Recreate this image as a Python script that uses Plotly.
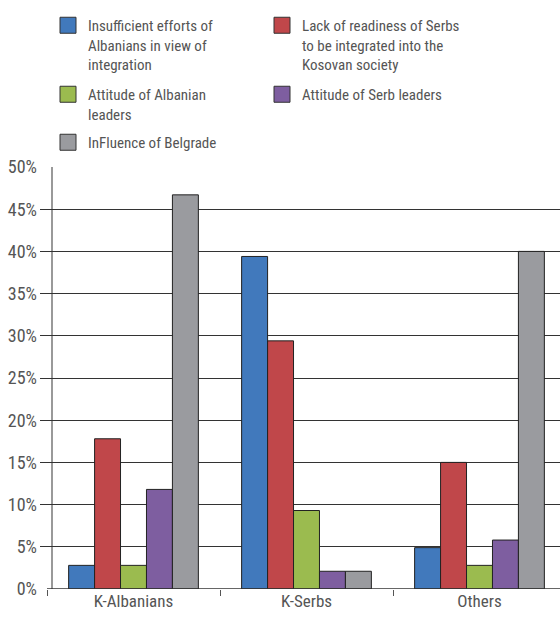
import plotly.graph_objects as go

categories = ["K-Albanians", "K-Serbs", "Others"]
series_names = [
    "Insufficient efforts of<br>Albanians in view of<br>integration",
    "Lack of readiness of Serbs<br>to be integrated into the<br>Kosovan society",
    "Attitude of Albanian<br>leaders",
    "Attitude of Serb leaders",
    "InFluence of Belgrade",
]
insufficient_efforts = [2.8, 39.4, 4.9]
lack_of_readiness = [17.8, 29.4, 15.0]
attitude_albanian = [2.8, 9.3, 2.8]
attitude_serb = [11.8, 2.1, 5.8]
influence_belgrade = [46.7, 2.1, 40.0]
y_ticks = [0, 5, 10, 15, 20, 25, 30, 35, 40, 45, 50]
y_tick_labels = [f"{v}%" for v in y_ticks]

values = [insufficient_efforts, lack_of_readiness, attitude_albanian, attitude_serb, influence_belgrade]
colors = ["#4179BC", "#C0474A", "#9BBB4F", "#7E5EA0", "#9A9B9F"]
legend_rows = ["legend", "legend", "legend2", "legend2", "legend3"]

FONT = "Roboto Condensed, Liberation Sans Narrow, sans-serif"
W, H = 560, 621
CAT_PX = 173.0

fig = go.Figure()
for i, (name, vals, col, lg) in enumerate(zip(series_names, values, colors, legend_rows)):
    fig.add_trace(go.Bar(
        x=categories, y=vals, name=name.replace("<br>", " "), legendgroup=f"g{i}", showlegend=False,
        marker=dict(color=col, line=dict(color="#222222", width=1)),
    ))
    # legend swatch (larger square than the default bar icon)
    fig.add_trace(go.Scatter(
        x=[None], y=[None], mode="markers", name=name, legend=lg, legendgroup=f"g{i}",
        marker=dict(symbol="square", size=16, color=col, line=dict(color="#333333", width=1)),
        hoverinfo="skip",
    ))

def legend_at(top_px):
    return dict(
        orientation="h", xref="container", yref="container",
        x=48 / W, y=1 - top_px / H, xanchor="left", yanchor="top",
        entrywidth=169, entrywidthmode="pixels", valign="top",
        itemsizing="trace",
        font=dict(family=FONT, size=15, color="#555555"),
        traceorder="normal", bgcolor="rgba(0,0,0,0)",
    )

x_left = -0.5 - 7 / CAT_PX
x_right = -0.5 + (W - 47) / CAT_PX

fig.update_layout(
    width=W, height=H,
    margin=dict(l=40, r=0, t=167, b=32, autoexpand=False),
    paper_bgcolor="white", plot_bgcolor="white",
    barmode="group", bargap=0.25, bargroupgap=0,
    font=dict(family=FONT, color="#555555", size=16),
    legend=legend_at(9),
    legend2=legend_at(78),
    legend3=legend_at(126),
    xaxis=dict(
        range=[x_left, x_right], tickson="boundaries", ticks="outside", ticklen=6,
        tickcolor="#555555", showline=False,
        tickfont=dict(size=17, color="#555555"),
    ),
    yaxis=dict(
        range=[0, 50], tickvals=y_ticks, ticktext=y_tick_labels,
        showgrid=True, gridcolor="#333333", gridwidth=1,
        zeroline=False, showline=False, ticks="", ticklabelstandoff=2,
        tickfont=dict(size=18, color="#555555"),
    ),
)
# y-axis line (gray) and x-axis baseline
fig.add_shape(type="line", xref="x", yref="y", x0=-0.5 + 5 / CAT_PX, x1=-0.5 + 5 / CAT_PX, y0=0, y1=50,
              line=dict(color="#999999", width=2), layer="below")
fig.add_shape(type="line", xref="x", yref="y", x0=-0.5, x1=x_right, y0=0, y1=0,
              line=dict(color="#333333", width=1.5), layer="above")

fig.write_html("out.html", config={"displayModeBar": False},
               post_script="document.body.style.margin='0';")
